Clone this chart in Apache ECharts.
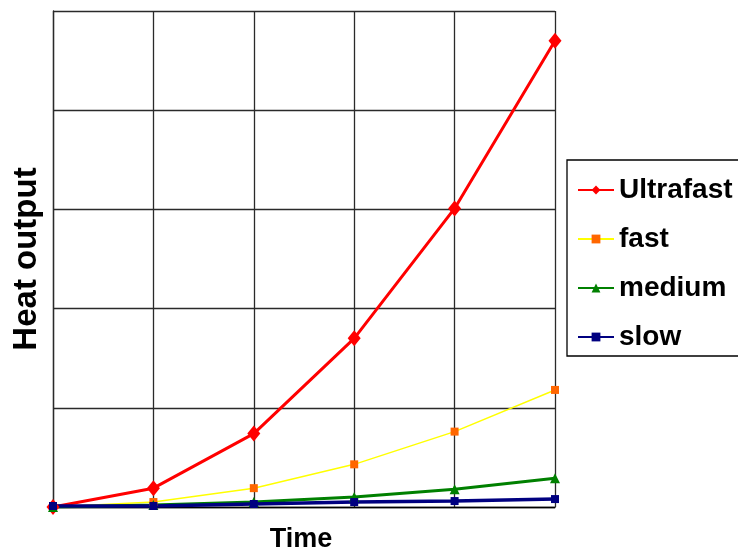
<!DOCTYPE html>
<html>
<head>
<meta charset="utf-8">
<script src="https://cdn.jsdelivr.net/npm/echarts@6/dist/echarts.min.js"></script>
<style>
  html, body { margin: 0; padding: 0; background: #fff; }
  #chart { width: 738px; height: 552px; }
</style>
</head>
<body>
<div id="chart"></div>
<script>
// values (y scale 0..5, no tick labels shown)
const timeSteps = ["0", "1", "2", "3", "4", "5"];
const ultrafast = [0, 0.19, 0.74, 1.7, 3.01, 4.7];
const fast = [0, 0.05, 0.19, 0.43, 0.76, 1.18];
const medium = [0, 0.02, 0.05, 0.1, 0.18, 0.29];
const slow = [0.01, 0.01, 0.03, 0.05, 0.06, 0.08];

const font = "'Liberation Sans', Arial, sans-serif";

function lineSeries(name, data, lineColor, markColor, symbol, size, width) {
  return {
    name: name,
    type: "line",
    data: data,
    symbol: symbol,
    symbolSize: size,
    showSymbol: true,
    lineStyle: { color: lineColor, width: width },
    itemStyle: { color: markColor },
    animation: false
  };
}

const myChart = echarts.init(document.getElementById("chart"));
const option = {
  backgroundColor: "#fff",
  animation: false,
  grid: { left: 53, right: 183, top: 11, bottom: 45, outerBoundsMode: "none" },
  legend: {
    orient: "vertical",
    left: 567,
    top: 160,
    padding: [15, 10, 4, 10],
    borderColor: "#000",
    borderWidth: 1.3,
    itemWidth: 36,
    itemHeight: 11,
    itemGap: 19,
    textStyle: { fontFamily: font, fontWeight: "bold", fontSize: 28, color: "#000", lineHeight: 30 },
    data: ["Ultrafast", "fast", "medium", "slow"]
  },
  xAxis: {
    type: "category",
    data: timeSteps,
    boundaryGap: false,
    name: "Time",
    nameLocation: "middle",
    nameGap: 19,
    nameTextStyle: { fontFamily: font, fontWeight: "bold", fontSize: 27, color: "#000", padding: [0, 6, 0, 0] },
    axisLine: { lineStyle: { color: "#000", width: 1.3 } },
    axisTick: { show: false },
    axisLabel: { show: false },
    splitLine: { show: true, lineStyle: { color: "#2a2a2a", width: 1.3 } }
  },
  yAxis: {
    type: "value",
    min: 0,
    max: 5,
    interval: 1,
    name: "Heat output",
    nameLocation: "middle",
    nameGap: 10,
    nameTextStyle: { fontFamily: font, fontWeight: "bold", fontSize: 33, color: "#000" },
    axisLine: { show: true, lineStyle: { color: "#2a2a2a", width: 1.3 } },
    axisTick: { show: false },
    axisLabel: { show: false },
    splitLine: { show: true, lineStyle: { color: "#2a2a2a", width: 1.3 } }
  },
  series: [
    lineSeries("Ultrafast", ultrafast, "#ff0000", "#ff0000", "diamond", [13, 16], 3),
    lineSeries("fast", fast, "#ffff00", "#ff6600", "rect", 8, 1.5),
    lineSeries("medium", medium, "#008000", "#008000", "triangle", 10, 3),
    lineSeries("slow", slow, "#000080", "#000080", "rect", 8, 3.5)
  ]
};
myChart.setOption(option);
</script>
</body>
</html>
